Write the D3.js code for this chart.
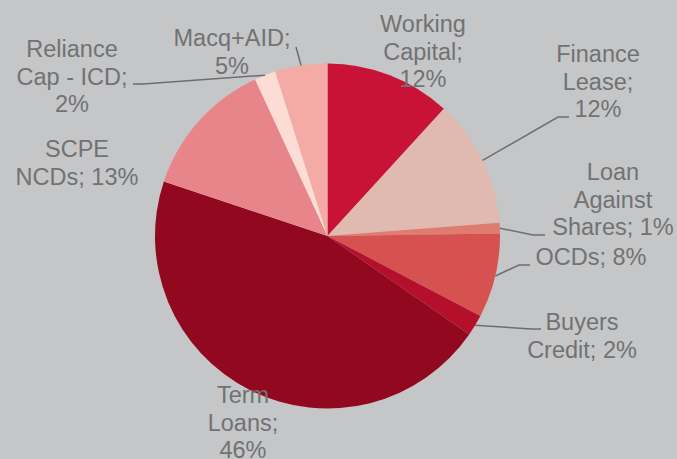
<!DOCTYPE html>
<html><head><meta charset="utf-8">
<script src="https://cdn.jsdelivr.net/npm/d3@7/dist/d3.min.js"></script>
<style>html,body{margin:0;padding:0;background:#c5c6c8;}svg{display:block;}</style>
</head><body>
<svg id="chart" width="677" height="459"></svg>
<script>
// ---- data ----
const categories = ["Working Capital","Finance Lease","Loan Against Shares","OCDs","Buyers Credit","Term Loans","SCPE NCDs","Reliance Cap - ICD","Macq+AID"];
const values = [11.8, 12.0, 1.0, 7.9, 2.0, 45.5, 13.0, 2.0, 4.9];
const pctLabels = ["12%","12%","1%","8%","2%","46%","13%","2%","5%"];
const colors = ["#c81236","#e0b9af","#e07b70","#d65251","#b5102b","#92081f","#e8858a","#fcdcd5","#f4aaa5"];

// ---- layout (label text lines and positions) ----
const labelLines = [
  ["Working","Capital;","12%"],
  ["Finance","Lease;","12%"],
  ["Loan","Against","Shares; 1%"],
  ["OCDs; 8%"],
  ["Buyers","Credit; 2%"],
  ["Term","Loans;","46%"],
  ["SCPE","NCDs; 13%"],
  ["Reliance","Cap - ICD;","2%"],
  ["Macq+AID;","5%"]
];
const labelPos = [[423,32],[598,62],[613,180],[591,265],[582,330],[243,403],[77,157],[72,57],[232,46]];
// leader line: [elbow, end] or null
const leaders = [null,[[558,117],[569,117]],[[533,235],[545,235]],[[519,265],[530,265]],[[532,329],[541,329]],null,null,[[143,84],[133,84]],[[296,47]]];

const W = 677, H = 459, cx = 327.5, cy = 236, R = 172.5;
const svg = d3.select("#chart");
svg.append("rect").attr("width",W).attr("height",H).attr("fill","#c5c6c8");
const g = svg.append("g").attr("transform",`translate(${cx},${cy})`);
const pie = d3.pie().sort(null).value(d=>d)(values);
const arc = d3.arc().innerRadius(0).outerRadius(R);
g.selectAll("path.slice").data(pie).join("path").attr("class","slice")
  .attr("d",arc).attr("fill",(d,i)=>colors[i]);

// leader lines
pie.forEach((d,i)=>{
  if(!leaders[i]) return;
  const a = (d.startAngle+d.endAngle)/2;
  const start = [cx + R*Math.sin(a), cy - R*Math.cos(a)];
  const pts = [start, ...leaders[i]];
  svg.append("path").attr("d", d3.line()(pts)).attr("fill","none")
    .attr("stroke","#6e6e6e").attr("stroke-width",1.5);
});

// labels
const lh = 27.5;
labelLines.forEach((lines,i)=>{
  const t = svg.append("text").attr("x",labelPos[i][0]).attr("y",labelPos[i][1])
    .attr("text-anchor","middle").attr("fill","#727272")
    .attr("font-family","'Liberation Sans', Arial, sans-serif").attr("font-size","23.5px");
  lines.forEach((l,j)=>{
    t.append("tspan").attr("x",labelPos[i][0]).attr("y",labelPos[i][1]+j*lh).text(l);
  });
});
</script>
</body></html>
